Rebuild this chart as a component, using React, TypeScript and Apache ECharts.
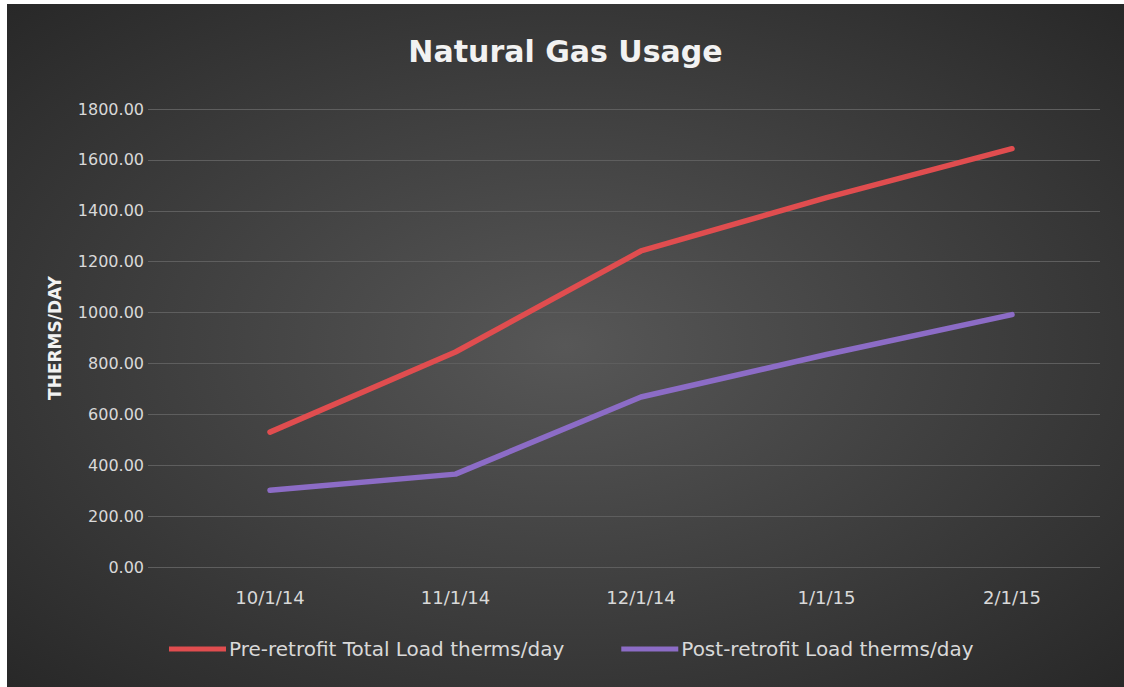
import React, { useEffect, useRef } from "react";
import * as echarts from "echarts";

const categories = ["10/1/14", "11/1/14", "12/1/14", "1/1/15", "2/1/15"];
const preRetrofit = [530, 845, 1242, 1452, 1644];
const postRetrofit = [302, 365, 668, 835, 992];
const seriesNames = ["Pre-retrofit Total Load therms/day", "Post-retrofit Load therms/day"];
const yMin = 0;
const yMax = 1800;
const yInterval = 200;

export default function App() {
  const ref = useRef<HTMLDivElement>(null);
  useEffect(() => {
    if (!ref.current) return;
    const chart = echarts.init(ref.current, null, { renderer: "svg" });
    const font = "'DejaVu Sans', 'Noto Sans', sans-serif";
    chart.setOption({
      animation: false,
      backgroundColor: {
        type: "radial",
        x: 0.5,
        y: 0.5,
        r: 0.75,
        colorStops: [
          { offset: 0, color: "#575757" },
          { offset: 1, color: "#252525" },
        ],
      },
      title: {
        text: "Natural Gas Usage",
        left: "center",
        top: 27,
        textStyle: { color: "#f2f2f2", fontSize: 30, fontWeight: "bold", fontFamily: font },
      },
      graphic: [
        {
          type: "text",
          x: 48,
          y: 334,
          rotation: Math.PI / 2,
          style: {
            text: "THERMS/DAY",
            fill: "#f2f2f2",
            font: "bold 17px 'DejaVu Sans', sans-serif",
            textAlign: "center",
            textVerticalAlign: "middle",
          },
        },
      ],
      legend: {
        data: seriesNames,
        left: 162,
        top: 635,
        padding: 0,
        icon: "rect",
        itemWidth: 57,
        itemHeight: 5,
        itemGap: 57,
        textStyle: { color: "#d9d9d9", fontSize: 20, fontFamily: font, padding: [0, 0, 0, -2] },
      },
      grid: [
        { left: 170.25, width: 927.5, top: 105, bottom: 120 },
        { left: 141, right: 24, top: 105, bottom: 120 },
      ],
      xAxis: [
        {
          type: "category",
          gridIndex: 0,
          data: categories,
          boundaryGap: true,
          axisLine: { show: false },
          axisTick: { show: false },
          axisLabel: { color: "#d9d9d9", fontSize: 18, fontFamily: font, margin: 21 },
        },
        {
          type: "value",
          gridIndex: 1,
          show: false,
        },
      ],
      yAxis: [
        {
          type: "value",
          gridIndex: 0,
          min: yMin,
          max: yMax,
          interval: yInterval,
          show: false,
          splitLine: { show: false },
        },
        {
          type: "value",
          gridIndex: 1,
          min: yMin,
          max: yMax,
          interval: yInterval,
          axisLine: { show: false },
          axisTick: { show: false },
          splitLine: { lineStyle: { color: "#5e5e5e", width: 1 } },
          axisLabel: {
            color: "#d9d9d9",
            fontSize: 16,
            fontFamily: font,
            margin: 4,
            formatter: (v: number) => v.toFixed(2),
          },
        },
      ],
      series: [
        {
          name: seriesNames[0],
          type: "line",
          xAxisIndex: 0,
          yAxisIndex: 0,
          data: preRetrofit,
          symbol: "none",
          color: "#e04d4f",
          lineStyle: { color: "#e04d4f", width: 5.5, cap: "round", join: "round" },
        },
        {
          name: seriesNames[1],
          type: "line",
          xAxisIndex: 0,
          yAxisIndex: 0,
          data: postRetrofit,
          symbol: "none",
          color: "#8c6cc6",
          lineStyle: { color: "#8c6cc6", width: 5.5, cap: "round", join: "round" },
        },
      ],
    });
    return () => chart.dispose();
  }, []);
  return (
    <div
      ref={ref}
      style={{ position: "absolute", left: 7, top: 4, width: 1117, height: 683 }}
    />
  );
}
